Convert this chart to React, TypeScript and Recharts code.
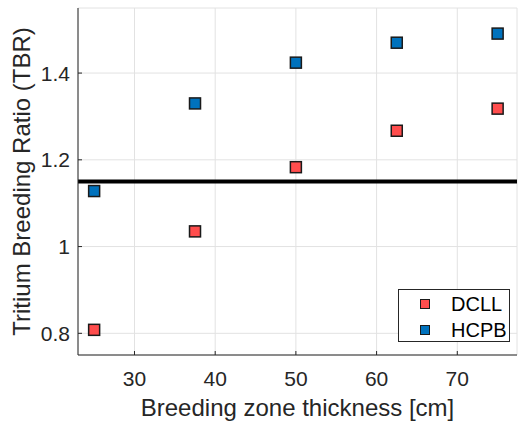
import { CartesianGrid, Legend, ReferenceLine, Scatter, ScatterChart, XAxis, YAxis } from "recharts";

const thickness = [25, 37.5, 50, 62.5, 75];
const dcllTbr = [0.808, 1.035, 1.183, 1.267, 1.318];
const hcpbTbr = [1.128, 1.33, 1.424, 1.47, 1.491];
const xTicks = [30, 40, 50, 60, 70];
const yTicks = [0.8, 1, 1.2, 1.4];
const tbrThreshold = 1.15;

const dcllData = thickness.map((x, i) => ({ x, y: dcllTbr[i] }));
const hcpbData = thickness.map((x, i) => ({ x, y: hcpbTbr[i] }));

const axisColor = "#262626";
const xDomain: [number, number] = [23, 77.4];
const yDomain: [number, number] = [0.75, 1.55];

function SquareMarker(props: any) {
	const { cx, cy, fill } = props;
	if (cx == null || cy == null) return null;
	return <rect x={cx - 5.5} y={cy - 5.5} width={11} height={11} fill={fill} stroke="#1a1a1a" strokeWidth={1.5} />;
}

function BottomTick({ x, y, payload }: any) {
	return (
		<g>
			<line x1={x} x2={x} y1={y} y2={y - 4} stroke={axisColor} />
			<text x={x} y={y + 31} textAnchor="middle" fontSize={21} fill={axisColor}>
				{payload.value}
			</text>
		</g>
	);
}

function LeftTick({ x, y, payload }: any) {
	return (
		<g>
			<line x1={x} x2={x + 4} y1={y} y2={y} stroke={axisColor} />
			<text x={x - 8} y={y} dy="0.36em" textAnchor="end" fontSize={21} fill={axisColor}>
				{payload.value}
			</text>
		</g>
	);
}

const TopTick = ({ x, y }: any) => <line x1={x} x2={x} y1={y} y2={y + 4} stroke={axisColor} />;
const RightTick = ({ x, y }: any) => <line x1={x} x2={x - 4} y1={y} y2={y} stroke={axisColor} />;

function LegendBox({ payload }: any) {
	return (
		<div
			style={{
				border: `1px solid ${axisColor}`,
				background: "#fff",
				width: 112,
				height: 53,
				boxSizing: "border-box",
				paddingTop: 1,
			}}
		>
			{(payload || []).map((e: any) => (
				<div key={e.value} style={{ display: "flex", alignItems: "center", height: 26, fontSize: 20, color: "#000" }}>
					<span
						style={{
							display: "inline-block",
							width: 8,
							height: 8,
							marginLeft: 21,
							marginRight: 21,
							background: e.color,
							border: "1px solid #1a1a1a",
						}}
					/>
					<span>{e.value}</span>
				</div>
			))}
		</div>
	);
}

export default function App() {
	return (
		<div style={{ position: "absolute", left: 0, top: 0, fontFamily: "'Liberation Sans', Arial, Helvetica, sans-serif" }}>
			<ScatterChart width={518} height={427} margin={{ top: 8, right: 1, bottom: 0, left: 0 }}>
				<CartesianGrid stroke="#e2e2e2" />
				<XAxis
					type="number"
					dataKey="x"
					domain={xDomain}
					ticks={xTicks}
					allowDataOverflow
					height={72}
					tickSize={0}
					tickMargin={0}
					tick={<BottomTick />}
					axisLine={{ stroke: axisColor }}
					label={{
						content: ({ viewBox }: any) => (
							<text x={viewBox.x + viewBox.width / 2} y={viewBox.y + 61} textAnchor="middle" fontSize={24} fill={axisColor}>
								Breeding zone thickness [cm]
							</text>
						),
					}}
				/>
				<XAxis
					xAxisId="top"
					orientation="top"
					type="number"
					dataKey="x"
					domain={xDomain}
					ticks={xTicks}
					allowDataOverflow
					height={0}
					tickSize={0}
					tickMargin={0}
					tick={<TopTick />}
					axisLine={{ stroke: axisColor }}
				/>
				<YAxis
					type="number"
					dataKey="y"
					domain={yDomain}
					ticks={yTicks}
					allowDataOverflow
					width={78}
					tickSize={0}
					tickMargin={0}
					tick={<LeftTick />}
					axisLine={{ stroke: axisColor }}
					label={{
						content: ({ viewBox }: any) => (
							<text
								transform={`translate(30, ${viewBox.y + viewBox.height / 2}) rotate(-90)`}
								textAnchor="middle"
								fontSize={24}
								fill={axisColor}
							>
								Tritium Breeding Ratio (TBR)
							</text>
						),
					}}
				/>
				<YAxis
					yAxisId="right"
					orientation="right"
					type="number"
					dataKey="y"
					domain={yDomain}
					ticks={yTicks}
					allowDataOverflow
					width={0}
					tickSize={0}
					tickMargin={0}
					tick={<RightTick />}
					axisLine={{ stroke: axisColor }}
				/>
				<ReferenceLine y={tbrThreshold} stroke="#000" strokeWidth={4} />
				<Scatter name="DCLL" data={dcllData} fill="#ff4d4d" shape={SquareMarker} isAnimationActive={false} />
				<Scatter name="HCPB" data={hcpbData} fill="#0072bd" shape={SquareMarker} isAnimationActive={false} />
				<Legend
					layout="vertical"
					align="center"
					verticalAlign="middle"
					content={<LegendBox />}
					wrapperStyle={{ left: 398, top: 289, width: 112, height: 53 }}
				/>
			</ScatterChart>
		</div>
	);
}
